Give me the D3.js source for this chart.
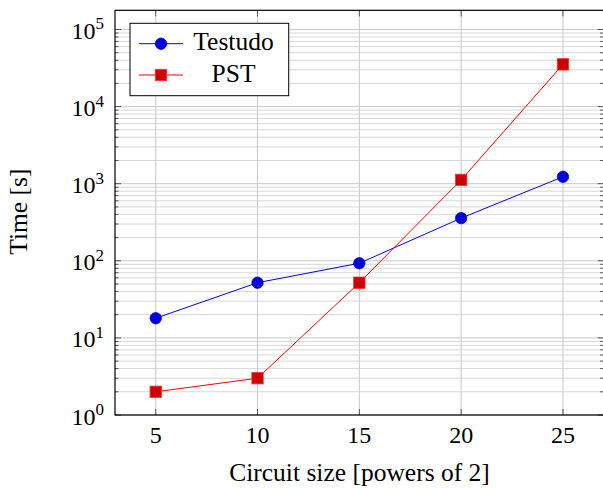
<!DOCTYPE html>
<html><head><meta charset="utf-8">
<script src="https://cdn.jsdelivr.net/npm/d3@7"></script>
<style>body{margin:0;background:#fff}svg{display:block}text{font-family:"Liberation Serif","DejaVu Serif",serif;fill:#000}</style>
</head><body><svg id="c" width="603" height="488"></svg>
<script>
const sizes = [5, 10, 15, 20, 25];
const testudo = [18, 52, 93, 358, 1230];
const pst = [2, 3, 52, 1120, 35300];
const xTicks = [5, 10, 15, 20, 25];
const yTickExps = [0, 1, 2, 3, 4, 5];
const seriesNames = ["Testudo", "PST"];

const svg = d3.select("#c");
const L = 115, R = 603.7, T = 10.3, B = 415;
const x = d3.scaleLinear().domain([3, 27]).range([L, R]);
const y = d3.scaleLog().domain([1, Math.pow(10, 5.249)]).range([B, T]);

const g = svg.append("g");
const minor = [];
for (let e = 0; e <= 5; e++) for (let m = 2; m <= 9; m++) { const v = m * Math.pow(10, e); if (v < y.domain()[1]) minor.push(v); }
g.selectAll(".mg").data(minor).join("line")
  .attr("x1", L).attr("x2", R).attr("y1", d => y(d)).attr("y2", d => y(d))
  .attr("stroke", "#d8d8d8").attr("stroke-width", 1);
g.selectAll(".Mg").data(yTickExps).join("line")
  .attr("x1", L).attr("x2", R).attr("y1", d => y(Math.pow(10, d))).attr("y2", d => y(Math.pow(10, d)))
  .attr("stroke", "#c8c8c8").attr("stroke-width", 1);
g.selectAll(".xg").data(xTicks).join("line")
  .attr("x1", d => x(d)).attr("x2", d => x(d)).attr("y1", T).attr("y2", B)
  .attr("stroke", "#c8c8c8").attr("stroke-width", 1);
const tk = svg.append("g").attr("stroke", "#555").attr("stroke-width", 1);
minor.forEach(v => { tk.append("line").attr("x1", L).attr("x2", L + 3.5).attr("y1", y(v)).attr("y2", y(v));
  tk.append("line").attr("x1", R).attr("x2", R - 3.5).attr("y1", y(v)).attr("y2", y(v)); });
yTickExps.forEach(e => { const yy = y(Math.pow(10, e));
  tk.append("line").attr("x1", L).attr("x2", L + 6).attr("y1", yy).attr("y2", yy);
  tk.append("line").attr("x1", R).attr("x2", R - 6).attr("y1", yy).attr("y2", yy); });
xTicks.forEach(v => { tk.append("line").attr("x1", x(v)).attr("x2", x(v)).attr("y1", B).attr("y2", B - 6);
  tk.append("line").attr("x1", x(v)).attr("x2", x(v)).attr("y1", T).attr("y2", T + 6); });
svg.append("rect").attr("x", L).attr("y", T).attr("width", R - L).attr("height", B - T)
  .attr("fill", "none").attr("stroke", "#000").attr("stroke-width", 1.2);

svg.selectAll(".xl").data(xTicks).join("text")
  .attr("x", d => x(d)).attr("y", B + 28).attr("text-anchor", "middle").attr("font-size", 24).text(d => d);
yTickExps.forEach(e => {
  const t = svg.append("text").attr("x", 104).attr("y", y(Math.pow(10, e)) + 9.5).attr("text-anchor", "end").attr("font-size", 24);
  t.append("tspan").text("10");
  t.append("tspan").attr("font-size", 17).attr("dy", -9.5).text(e);
});
svg.append("text").attr("x", 359.5).attr("y", 481).attr("text-anchor", "middle").attr("font-size", 25.5).text("Circuit size [powers of 2]");
svg.append("text").attr("transform", `translate(27,211.7) rotate(-90)`).attr("text-anchor", "middle").attr("font-size", 25.5).text("Time [s]");

const line = d3.line().x(d => x(d[0])).y(d => y(d[1]));
const tData = sizes.map((s, i) => [s, testudo[i]]);
const pData = sizes.map((s, i) => [s, pst[i]]);
svg.append("path").attr("d", line(tData)).attr("fill", "none").attr("stroke", "#0000ff").attr("stroke-width", 1);
svg.append("path").attr("d", line(pData)).attr("fill", "none").attr("stroke", "#ff0000").attr("stroke-width", 1);
svg.selectAll(".tm").data(tData).join("circle").attr("cx", d => x(d[0])).attr("cy", d => y(d[1])).attr("r", 5.7)
  .attr("fill", "#0000d8").attr("stroke", "#0000ff").attr("stroke-width", 0.8);
svg.selectAll(".pm").data(pData).join("rect").attr("x", d => x(d[0]) - 5.7).attr("y", d => y(d[1]) - 5.7).attr("width", 11.4).attr("height", 11.4)
  .attr("fill", "#cc0000").attr("stroke", "#ff3333").attr("stroke-width", 0.8);

const lg = svg.append("g");
lg.append("rect").attr("x", 130).attr("y", 23.3).attr("width", 158.7).attr("height", 72.4).attr("fill", "#fff").attr("stroke", "#000").attr("stroke-width", 1);
const ly = [43.7, 75];
lg.append("line").attr("x1", 139).attr("x2", 183).attr("y1", ly[0]).attr("y2", ly[0]).attr("stroke", "#0000ff");
lg.append("circle").attr("cx", 161).attr("cy", ly[0]).attr("r", 5.7).attr("fill", "#0000d8").attr("stroke", "#0000ff").attr("stroke-width", 0.8);
lg.append("line").attr("x1", 139).attr("x2", 183).attr("y1", ly[1]).attr("y2", ly[1]).attr("stroke", "#ff0000");
lg.append("rect").attr("x", 161 - 5.7).attr("y", ly[1] - 5.7).attr("width", 11.4).attr("height", 11.4).attr("fill", "#cc0000").attr("stroke", "#ff3333").attr("stroke-width", 0.8);
seriesNames.forEach((n, i) => lg.append("text").attr("x", 233.5).attr("y", ly[i] + 6.5).attr("text-anchor", "middle").attr("font-size", 25.5).text(n));
</script></body></html>
